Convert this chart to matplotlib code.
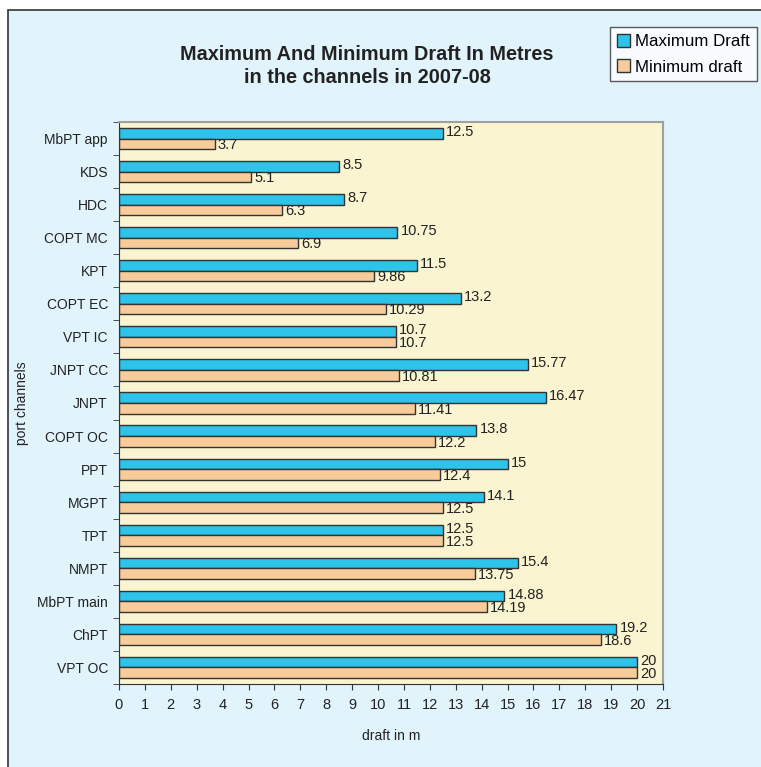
import matplotlib.pyplot as plt
import numpy as np
from matplotlib.patches import Rectangle

plt.rcParams['font.family'] = ['Liberation Sans', 'DejaVu Sans']

# Data (bottom to top)
channels = ['VPT OC', 'ChPT', 'MbPT main', 'NMPT', 'TPT', 'MGPT', 'PPT', 'COPT OC',
            'JNPT', 'JNPT CC', 'VPT IC', 'COPT EC', 'KPT', 'COPT MC', 'HDC', 'KDS', 'MbPT app']
max_draft = [20, 19.2, 14.88, 15.4, 12.5, 14.1, 15, 13.8,
             16.47, 15.77, 10.7, 13.2, 11.5, 10.75, 8.7, 8.5, 12.5]
min_draft = [20, 18.6, 14.19, 13.75, 12.5, 12.5, 12.4, 12.2,
             11.41, 10.81, 10.7, 10.29, 9.86, 6.9, 6.3, 5.1, 3.7]
max_labels = ['20', '19.2', '14.88', '15.4', '12.5', '14.1', '15', '13.8',
              '16.47', '15.77', '10.7', '13.2', '11.5', '10.75', '8.7', '8.5', '12.5']
min_labels = ['20', '18.6', '14.19', '13.75', '12.5', '12.5', '12.4', '12.2',
              '11.41', '10.81', '10.7', '10.29', '9.86', '6.9', '6.3', '5.1', '3.7']

fig = plt.figure(figsize=(7.61, 7.67), dpi=100)
fig.patch.set_facecolor('white')
fig.patches.append(Rectangle((8 / 761, -0.1), 1.2, 1 - 10 / 767 + 0.1,
                             transform=fig.transFigure, facecolor='#e1f3fb',
                             edgecolor='#333333', linewidth=1.2, zorder=-10))

ax = fig.add_axes([119 / 761, 1 - 684 / 767, (663 - 119) / 761, (684 - 122) / 767])
ax.set_facecolor('#faf4d0')

y = np.arange(len(channels))
h = 0.32
ax.barh(y + h / 2, max_draft, height=h, color='#2ec3e8', edgecolor='#333333',
        linewidth=1.0, label='Maximum Draft')
ax.barh(y - h / 2, min_draft, height=h, color='#f8cb9a', edgecolor='#333333',
        linewidth=1.0, label='Minimum draft')

for yi, v, s in zip(y, max_draft, max_labels):
    ax.text(v + 0.12, yi + h / 2 + 0.04, s, va='center', ha='left', fontsize=10.5, color='#222222')
for yi, v, s in zip(y, min_draft, min_labels):
    ax.text(v + 0.12, yi - h / 2 - 0.04, s, va='center', ha='left', fontsize=10.5, color='#222222')

ax.set_xlim(0, 21)
ax.set_ylim(-0.5, len(channels) - 0.5)
ax.set_xticks(range(22))
ax.set_yticks(y)
ax.set_yticklabels(channels)
ax.set_yticks(np.arange(-0.5, len(channels), 1), minor=True)
ax.tick_params(axis='y', which='major', length=0, labelsize=10, pad=8, colors='#222222')
ax.tick_params(axis='y', which='minor', length=4, color='#333333')
ax.tick_params(axis='x', length=4, labelsize=10.5, pad=6, colors='#222222', color='#333333')

for side in ['top', 'right']:
    ax.spines[side].set_color('#a0a0a0')
    ax.spines[side].set_linewidth(1.5)
for side in ['left', 'bottom']:
    ax.spines[side].set_color('#333333')

ax.set_xlabel('draft in m', fontsize=10, labelpad=12, color='#222222')
ax.set_ylabel('port channels', fontsize=10, color='#222222')
ax.yaxis.set_label_coords(-0.166, 0.5)

fig.text(367 / 761, 1 - 66 / 767, 'Maximum And Minimum Draft In Metres\nin the channels in 2007-08',
         ha='center', va='center', fontsize=14.3, fontweight='bold', color='#222222',
         linespacing=1.3)

leg = ax.legend(loc='upper left', bbox_to_anchor=(610 / 761, 1 - 27 / 767),
                bbox_transform=fig.transFigure, frameon=True, fancybox=False,
                fontsize=12.2, handlelength=0.8, handleheight=0.8, handletextpad=0.3,
                borderaxespad=0, borderpad=0.4, labelspacing=0.6)
leg.get_frame().set_edgecolor('#333333')
leg.get_frame().set_linewidth(1.0)

fig.savefig('out.png', dpi=100)
